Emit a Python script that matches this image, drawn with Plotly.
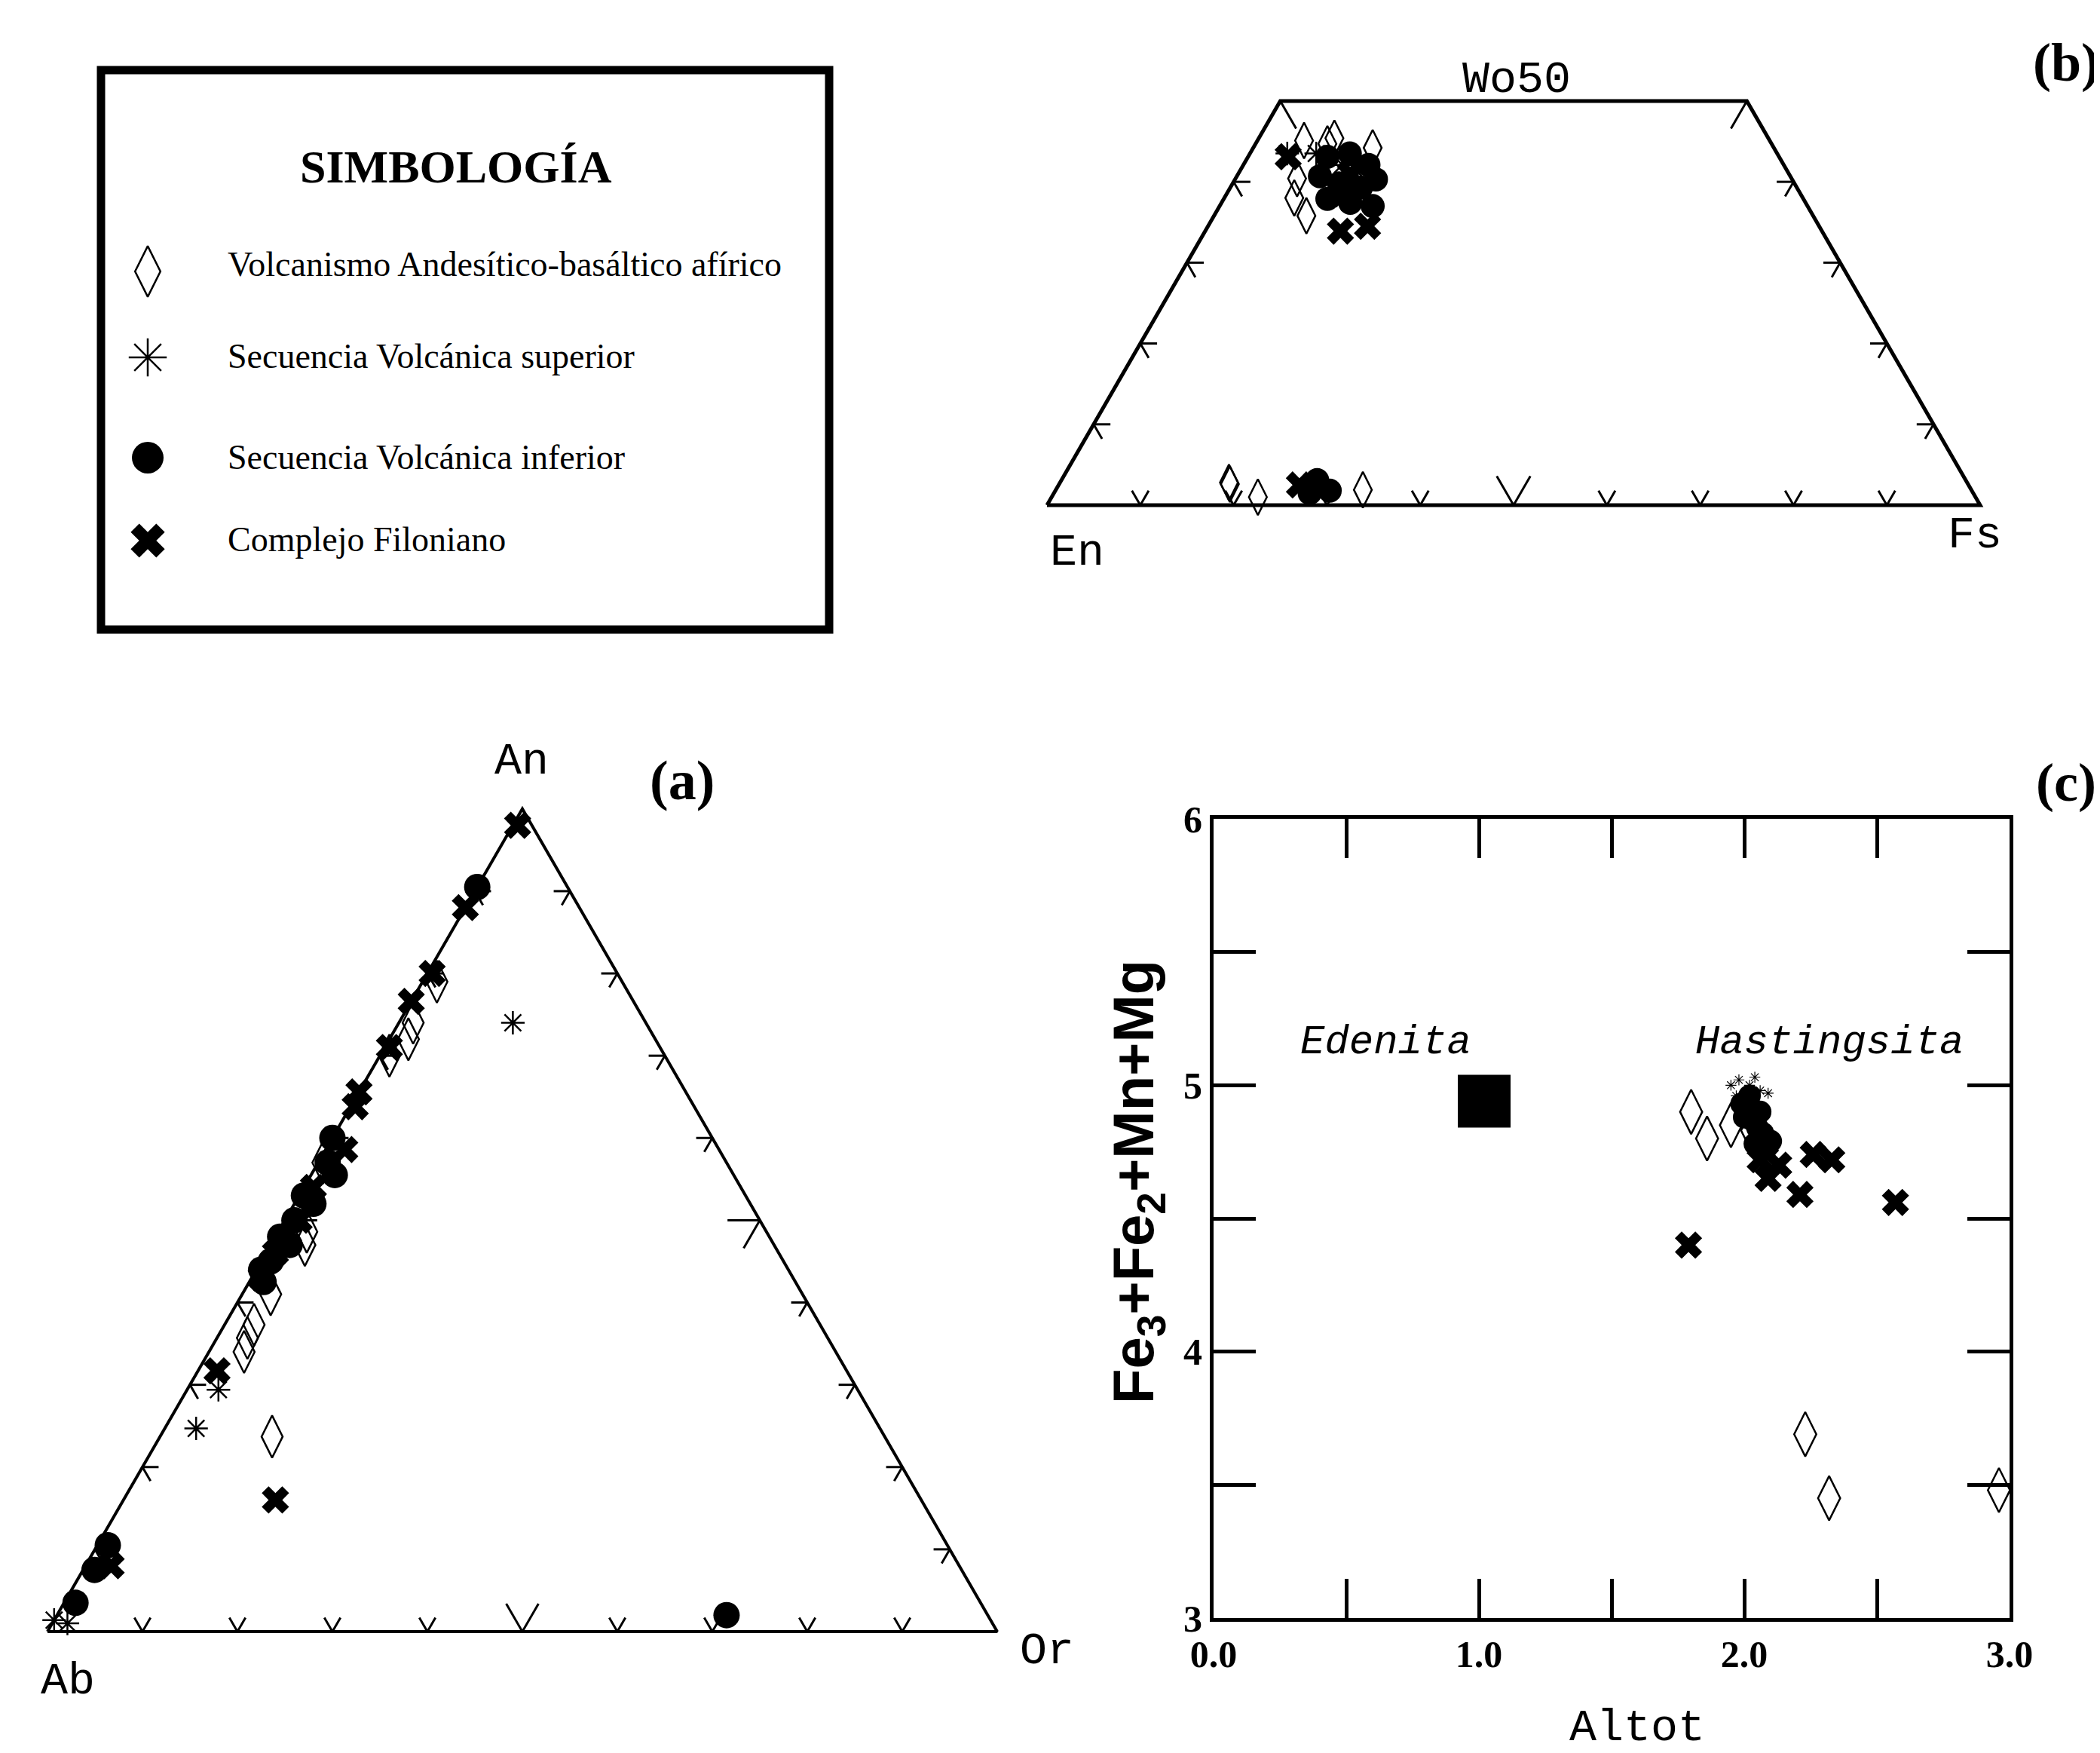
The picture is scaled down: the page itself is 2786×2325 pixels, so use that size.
import math
import plotly.graph_objects as go

W, H = 2786, 2325
S3 = math.sqrt(3) / 2

# ---------------- DATA ----------------
legend_names = ["Volcanismo Andesítico-basáltico afírico",
                "Secuencia Volcánica superior",
                "Secuencia Volcánica inferior",
                "Complejo Filoniano"]

# (a) Feldspars: An %, Or %  (Ab = 100 - An - Or)
fsp_corner_an = [0, 0, 100, 0]
fsp_corner_or = [0, 100, 0, 0]
fsp_diam_an = [79, 74, 72, 70, 57, 48.6, 47, 41, 37.3, 35.7, 34, 23.7]
fsp_diam_or = [1.5, 1.5, 2, 1, 0.5, 3, 3.6, 3, 3.1, 3.2, 3.7, 11.8]
fsp_star_an = [74, 29.4, 24.7, 1, 1.4]
fsp_star_or = [12, 3.3, 3.3, 1.6, 0]
fsp_circ_an = [90.5, 60, 57, 55.5, 53, 52, 50, 48, 47, 45, 44, 42.5, 10.5, 7.5, 3.5, 2]
fsp_circ_or = [0, 0, 1, 2.5, 0.5, 2, 1, 0.5, 2, 1, 0.5, 1.5, 1.1, 1.2, 1.2, 70.5]
fsp_x_an = [98, 88, 80, 76.6, 71, 65.6, 63.8, 58.6, 54, 50, 46, 43, 31.7, 16, 8]
fsp_x_or = [0.5, 0, 0.5, 0, 0.5, 0, 0.5, 2, 1, 1.5, 1, 1, 2, 16, 2.7]

# (b) Pyroxenes: Wo %, Fs %  (En = 100 - Wo - Fs)
px_corner_wo = [0, 0, 50, 50, 0]
px_corner_fs = [0, 100, 50, 0, 0]
px_diam_wo = [45.1, 40.4, 35.8, 44.7, 45.4, 44.2, 38.0, 2.8, 2.6, 1.0, 1.9]
px_diam_fs = [5.0, 6.6, 9.9, 7.7, 8.1, 12.8, 7.5, 18.1, 18.3, 22.1, 32.9]
px_star_wo = [43.5, 41.2, 42.1, 43.5]
px_star_fs = [7.1, 12.7, 10.6, 4.0]
px_circ_wo = [43.1, 43.5, 42.1, 39.8, 39.3, 40.3, 37.4, 37.9, 37.0, 40.7, 3.1, 1.8, 1.5]
px_circ_fs = [8.5, 10.7, 13.4, 11.4, 14.0, 15.1, 13.8, 11.1, 16.4, 8.9, 27.4, 29.4, 27.4]
px_x_wo = [43.1, 41.0, 38.5, 33.9, 34.5, 2.5, 2.3]
px_x_fs = [4.3, 12.0, 12.5, 14.5, 17.1, 25.8, 27.7]

# (c) Amphiboles: Altot vs Fe3+Fe2+Mn+Mg
amp_diam_x = [1.80, 1.86, 1.95, 2.03, 2.23, 2.32, 2.96]
amp_diam_y = [4.90, 4.80, 4.85, 4.83, 3.69, 3.45, 3.48]
amp_star_x = [1.95, 1.98, 2.02, 2.06, 2.09, 1.97, 2.04]
amp_star_y = [5.00, 5.02, 5.00, 4.98, 4.97, 4.96, 5.03]
amp_circ_x = [1.99, 2.01, 2.03, 2.05, 2.02, 2.06, 2.07, 2.00, 2.04, 2.08, 2.10]
amp_circ_y = [4.93, 4.90, 4.87, 4.84, 4.96, 4.90, 4.82, 4.88, 4.78, 4.76, 4.79]
amp_x_x = [1.79, 2.57, 2.21, 2.26, 2.33, 2.09, 2.13, 2.06, 2.08]
amp_x_y = [4.40, 4.56, 4.59, 4.74, 4.72, 4.65, 4.70, 4.72, 4.78]
amp_ref_x = [1.02]
amp_ref_y = [4.94]

c_xtick_vals = [0, 1, 2, 3]
c_xtick_text = ["0.0", "1.0", "2.0", "3.0"]
c_ytick_vals = [3, 4, 5, 6]
c_ytick_text = ["3", "4", "5", "6"]

tern_ticks = [10, 20, 30, 40, 50, 60, 70, 80, 90]
quad_side_ticks = [10, 20, 30, 40, 50]

# ---------------- helpers ----------------
def tern_xy(top, right):
    xs = [r + t * 0.5 for t, r in zip(top, right)]
    ys = [t * S3 for t in top]
    return xs, ys

def edge_stubs(ts, kind, small, big):
    xs, ys = [], []
    for t in ts:
        L = big if t == 50 else small
        if kind == "base":
            (x0,), (y0,) = tern_xy([0], [t])
            dirs = [(0.5, S3), (-0.5, S3)]
        elif kind == "left":
            (x0,), (y0,) = tern_xy([t], [0])
            dirs = [(1, 0), (0.5, -S3)]
        else:
            (x0,), (y0,) = tern_xy([t], [100 - t])
            dirs = [(-1, 0), (-0.5, -S3)]
        for dx, dy in dirs:
            xs += [x0, x0 + dx * L, None]
            ys += [y0, y0 + dy * L, None]
    return xs, ys

def dom_x(p0, p1):
    return [p0 / W, p1 / W]

def dom_y(top, bottom):
    return [1 - bottom / H, 1 - top / H]

def px(x):
    return x / W

def py(y):
    return 1 - y / H

SYM = {0: "diamond-tall-open", 1: "asterisk-open", 2: "circle", 3: "x"}

def marker(i, size):
    m = dict(symbol=SYM[i], size=size, color="black")
    if i in (0, 1):
        m["line"] = dict(width=2.5, color="black")
    else:
        m["line"] = dict(width=0)
    return m

fig = go.Figure()

# ---------------- (a) feldspar ternary ----------------
ox, oy = tern_xy(fsp_corner_an, fsp_corner_or)
fig.add_trace(go.Scatter(x=ox, y=oy, mode="lines", line=dict(color="black", width=4),
                         xaxis="x", yaxis="y", hoverinfo="skip"))
sx, sy = [], []
for kind in ("base", "left", "right"):
    a, b = edge_stubs(tern_ticks, kind, 1.7, 3.4)
    sx += a
    sy += b
fig.add_trace(go.Scatter(x=sx, y=sy, mode="lines", line=dict(color="black", width=3),
                         xaxis="x", yaxis="y", hoverinfo="skip"))
a_sets = [(fsp_diam_an, fsp_diam_or, 40), (fsp_star_an, fsp_star_or, 26),
          (fsp_circ_an, fsp_circ_or, 35), (fsp_x_an, fsp_x_or, 32)]
for i, (an, orr, sz) in enumerate(a_sets):
    x, y = tern_xy(an, orr)
    fig.add_trace(go.Scatter(x=x, y=y, mode="markers", name=legend_names[i],
                             marker=marker(i, sz), cliponaxis=False,
                             xaxis="x", yaxis="y"))

# ---------------- (b) pyroxene quadrilateral ----------------
ox, oy = tern_xy(px_corner_wo, px_corner_fs)
fig.add_trace(go.Scatter(x=ox, y=oy, mode="lines", line=dict(color="black", width=5),
                         xaxis="x2", yaxis="y2", hoverinfo="skip"))
sx, sy = edge_stubs(tern_ticks, "base", 1.8, 3.6)
for kind in ("left", "right"):
    a, b = edge_stubs(quad_side_ticks, kind, 1.8, 3.4)
    sx += a
    sy += b
fig.add_trace(go.Scatter(x=sx, y=sy, mode="lines", line=dict(color="black", width=3),
                         xaxis="x2", yaxis="y2", hoverinfo="skip"))
b_sets = [(px_diam_wo, px_diam_fs, 34), (px_star_wo, px_star_fs, 26),
          (px_circ_wo, px_circ_fs, 32), (px_x_wo, px_x_fs, 32)]
for i, (wo, fs, sz) in enumerate(b_sets):
    x, y = tern_xy(wo, fs)
    fig.add_trace(go.Scatter(x=x, y=y, mode="markers", name=legend_names[i],
                             marker=marker(i, sz), cliponaxis=False,
                             xaxis="x2", yaxis="y2"))

# ---------------- (c) amphibole diagram ----------------
fig.add_trace(go.Scatter(x=amp_ref_x, y=amp_ref_y, mode="markers", name="Edenita",
                         marker=dict(symbol="square", size=70, color="black"),
                         xaxis="x3", yaxis="y3", cliponaxis=False))
c_sets = [(amp_diam_x, amp_diam_y, 42), (amp_star_x, amp_star_y, 12),
          (amp_circ_x, amp_circ_y, 30), (amp_x_x, amp_x_y, 32)]
for i, (x, y, sz) in enumerate(c_sets):
    m = marker(i, sz)
    if i == 1:
        m["line"] = dict(width=1.2, color="black")
    fig.add_trace(go.Scatter(x=x, y=y, mode="markers", name=legend_names[i],
                             marker=m, cliponaxis=False, xaxis="x3", yaxis="y3"))

# ---------------- legend box ----------------
LB = dict(left=126, right=1092, top=85, bottom=827)
leg_sym_x = 188
leg_sym_y = [352, 466, 599, 709]
leg_txt_y = [343, 464, 599, 707]
leg_sizes = [48, 42, 42, 40]
for i in range(4):
    fig.add_trace(go.Scatter(x=[leg_sym_x], y=[leg_sym_y[i]], mode="markers",
                             name=legend_names[i], marker=marker(i, leg_sizes[i]),
                             xaxis="x4", yaxis="y4", cliponaxis=False))

# ---------------- layout ----------------
ka, oax, oay = 12.6, 55, 2156
kb, obx, oby = 12.38, 1381, 662

hidden = dict(visible=False, automargin=False, showgrid=False, zeroline=False)
tick_font = dict(family="Liberation Serif", size=50, color="black", weight="bold")

layout = dict(
    width=W, height=H, autosize=False,
    margin=dict(l=0, r=0, t=0, b=0, pad=0, autoexpand=False),
    paper_bgcolor="white", plot_bgcolor="white",
    showlegend=False,
    xaxis=dict(domain=dom_x(10, 1380), range=[(10 - oax) / ka, (1380 - oax) / ka],
               anchor="y", **hidden),
    yaxis=dict(domain=dom_y(990, 2215), range=[(oay - 2215) / ka, (oay - 990) / ka],
               anchor="x", **hidden),
    xaxis2=dict(domain=dom_x(1340, 2700), range=[(1340 - obx) / kb, (2700 - obx) / kb],
                anchor="y2", **hidden),
    yaxis2=dict(domain=dom_y(60, 745), range=[(oby - 745) / kb, (oby - 60) / kb],
                anchor="x2", **hidden),
    xaxis3=dict(domain=dom_x(1602, 2658), range=[0, 3], anchor="y3", automargin=False,
                tickvals=c_xtick_vals, ticktext=c_xtick_text,
                ticks="inside", ticklen=52, tickwidth=5, tickcolor="black",
                minor=dict(dtick=0.5, tick0=0, ticks="inside", ticklen=52, tickwidth=5,
                           tickcolor="black", showgrid=False),
                showline=True, linecolor="black", linewidth=5, mirror="ticks",
                showgrid=False, zeroline=False, tickfont=tick_font),
    yaxis3=dict(domain=dom_y(1078, 2138), range=[3, 6], anchor="x3", automargin=False,
                tickvals=c_ytick_vals, ticktext=c_ytick_text,
                ticks="inside", ticklen=56, tickwidth=5, tickcolor="black",
                minor=dict(dtick=0.5, tick0=0, ticks="inside", ticklen=56, tickwidth=5,
                           tickcolor="black", showgrid=False),
                showline=True, linecolor="black", linewidth=5, mirror="ticks",
                showgrid=False, zeroline=False, tickfont=tick_font),
    xaxis4=dict(domain=dom_x(LB["left"], LB["right"]), range=[LB["left"], LB["right"]],
                anchor="y4", **hidden),
    yaxis4=dict(domain=dom_y(LB["top"], LB["bottom"]), range=[LB["bottom"], LB["top"]],
                anchor="x4", **hidden),
)
fig.update_layout(**layout)

fig.add_shape(type="rect", xref="paper", yref="paper",
              x0=px(LB["left"]), x1=px(LB["right"]), y0=py(LB["bottom"]), y1=py(LB["top"]),
              line=dict(color="black", width=11), fillcolor="rgba(0,0,0,0)")

MONO = "Liberation Mono"
SERIF = "Liberation Serif"
SANS = "Liberation Sans"

def ann(text, x, y, size, family, xanchor="center", angle=0, xref="paper", yref="paper"):
    fig.add_annotation(text=text, x=x, y=y, xref=xref, yref=yref, showarrow=False,
                       xanchor=xanchor, yanchor="middle", textangle=angle,
                       font=dict(family=family, size=size, color="black"))

# legend texts
ann("<b>SIMBOLOGÍA</b>", px(597), py(213), 62, SERIF)
for i in range(4):
    ann(legend_names[i], px(292), py(leg_txt_y[i]), 46, SERIF, xanchor="left")

# panel (a) labels
ann("An", px(684), py(1002), 60, MONO)
ann("Ab", px(82), py(2222), 60, MONO)
ann("Or", px(1381), py(2182), 60, MONO)
ann("<b>(a)</b>", px(897), py(1027), 74, SERIF)

# panel (b) labels
ann("Wo50", px(2004), py(98), 60, MONO)
ann("En", px(1421), py(725), 60, MONO)
ann("Fs", px(2612), py(702), 60, MONO)
ann("<b>(b)</b>", px(2733), py(75), 72, SERIF)

# panel (c) labels
ann("<b>(c)</b>", px(2733), py(1030), 72, SERIF)
ann("<i>Edenita</i>", 0.65, 5.16, 54, MONO, xref="x3", yref="y3")
ann("<i>Hastingsita</i>", 2.32, 5.16, 54, MONO, xref="x3", yref="y3")
ann("<b>Fe<sub>3</sub>+Fe<sub>2</sub>+Mn+Mg</b>", px(1501), py(1560), 76, SANS, angle=-90)
ann("Altot", px(2164), py(2284), 60, MONO)

fig.write_html("out.html")
